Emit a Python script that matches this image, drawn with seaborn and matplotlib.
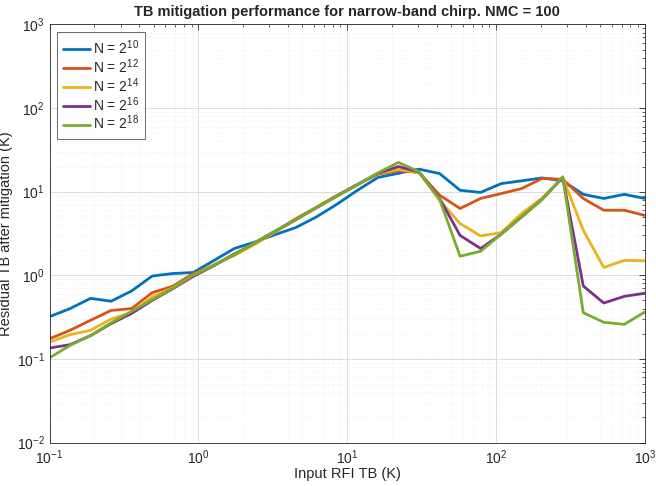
import numpy as np
import pandas as pd
import matplotlib
matplotlib.use("Agg")
import matplotlib.pyplot as plt
import seaborn as sns
from matplotlib.ticker import LogLocator, NullFormatter

# ---- data ----
x_vals = [0.1, 0.1374, 0.1887, 0.2593, 0.3562, 0.4894, 0.6723, 0.9237, 1.269, 1.743,
          2.395, 3.290, 4.520, 6.210, 8.532, 11.72, 16.10, 22.12, 30.39, 41.75,
          57.36, 78.80, 108.3, 148.7, 204.3, 280.7, 385.7, 529.8, 727.9, 1000.0]

series_names = ["N = $2^{10}$", "N = $2^{12}$", "N = $2^{14}$", "N = $2^{16}$", "N = $2^{18}$"]

n10 = [0.32, 0.40, 0.53, 0.49, 0.65, 0.98, 1.05, 1.08, 1.50, 2.09,
       2.50, 3.07, 3.73, 4.99, 7.08, 10.4, 14.8, 16.6, 18.6, 16.5,
       10.4, 9.8, 12.5, 13.5, 14.6, 13.5, 9.3, 8.3, 9.3, 8.3]
n12 = [0.174, 0.22, 0.29, 0.38, 0.40, 0.62, 0.74, 1.05, 1.32, 1.80,
       2.40, 3.35, 4.75, 6.5, 9.0, 12.2, 16.2, 17.8, 17.0, 9.1,
       6.3, 8.3, 9.5, 10.9, 14.4, 14.1, 8.3, 6.0, 6.0, 5.2]
n14 = [0.159, 0.195, 0.22, 0.30, 0.36, 0.55, 0.71, 1.0, 1.35, 1.72,
       2.35, 3.3, 4.6, 6.4, 8.8, 12.0, 16.5, 18.4, 17.0, 7.9,
       4.16, 2.96, 3.24, 5.5, 8.4, 14.8, 3.46, 1.24, 1.51, 1.49]
n16 = [0.135, 0.148, 0.19, 0.264, 0.35, 0.50, 0.69, 0.97, 1.30, 1.78,
       2.45, 3.38, 4.65, 6.45, 8.9, 12.2, 16.6, 20.0, 17.2, 8.3,
       3.0, 2.09, 3.10, 5.0, 8.1, 14.8, 0.745, 0.466, 0.56, 0.61]
n18 = [0.103, 0.145, 0.19, 0.27, 0.37, 0.51, 0.70, 1.0, 1.31, 1.78,
       2.46, 3.39, 4.68, 6.46, 8.9, 12.2, 16.8, 22.4, 17.3, 8.1,
       1.69, 1.94, 3.10, 5.0, 8.1, 15.1, 0.357, 0.274, 0.259, 0.364]

colors = ["#0072BD", "#D95319", "#EDB120", "#7E2F8E", "#77AC30"]

frames = []
for name, vals in zip(series_names, [n10, n12, n14, n16, n18]):
    frames.append(pd.DataFrame({"x": x_vals, "y": vals, "series": name}))
df = pd.concat(frames, ignore_index=True)

# ---- style ----
sns.set_style("white")
plt.rcParams["font.family"] = ["Liberation Sans", "DejaVu Sans"]
plt.rcParams["mathtext.fontset"] = "custom"
plt.rcParams["mathtext.rm"] = "Liberation Sans"
plt.rcParams["mathtext.it"] = "Liberation Sans"

fig = plt.figure(figsize=(6.56, 4.86), dpi=100)
ax = fig.add_axes([0.0755, 0.0895, 0.9075, 0.8601])

sns.lineplot(data=df, x="x", y="y", hue="series", palette=colors,
             linewidth=2.0, ax=ax, sort=False, estimator=None)

ax.set_xscale("log")
ax.set_yscale("log")
ax.set_xlim(0.1, 1000)
ax.set_ylim(0.01, 1000)

ax.xaxis.set_major_locator(LogLocator(base=10, numticks=10))
ax.yaxis.set_major_locator(LogLocator(base=10, numticks=10))
ax.xaxis.set_minor_locator(LogLocator(base=10, subs=np.arange(2, 10), numticks=20))
ax.yaxis.set_minor_locator(LogLocator(base=10, subs=np.arange(2, 10), numticks=20))
ax.xaxis.set_minor_formatter(NullFormatter())
ax.yaxis.set_minor_formatter(NullFormatter())

ax.grid(True, which="major", color="#dcdcdc", linewidth=0.7)
ax.grid(True, which="minor", color="#ececec", linewidth=0.5, linestyle=":")
ax.set_axisbelow(True)

for sp in ax.spines.values():
    sp.set_visible(True)
    sp.set_color("#262626")
    sp.set_linewidth(0.6)

ax.tick_params(which="both", direction="in", top=True, right=True, colors="#262626",
               labelsize=10, labelcolor="#262626")
ax.tick_params(which="major", length=4, width=0.6)
ax.tick_params(which="minor", length=2, width=0.5)
ax.tick_params(axis="x", pad=4.5)

ax.set_title("TB mitigation performance for narrow-band chirp. NMC = 100",
             fontsize=10.5, fontweight="bold", pad=6)
ax.set_xlabel("Input RFI TB (K)", fontsize=10.5, color="#262626", labelpad=0)
ax.set_ylabel("Residual TB after mitigation (K)", fontsize=10.5, color="#262626")
ax.yaxis.set_label_coords(-0.061, 0.5)

leg = ax.legend(loc="upper left", fontsize=10, frameon=True, fancybox=False,
                edgecolor="#262626", handlelength=1.9, borderpad=0.45,
                labelspacing=0.02, handletextpad=0.2, borderaxespad=0.55)
leg.get_frame().set_linewidth(0.6)
leg.set_title(None)

fig.savefig("out.png", dpi=100)
